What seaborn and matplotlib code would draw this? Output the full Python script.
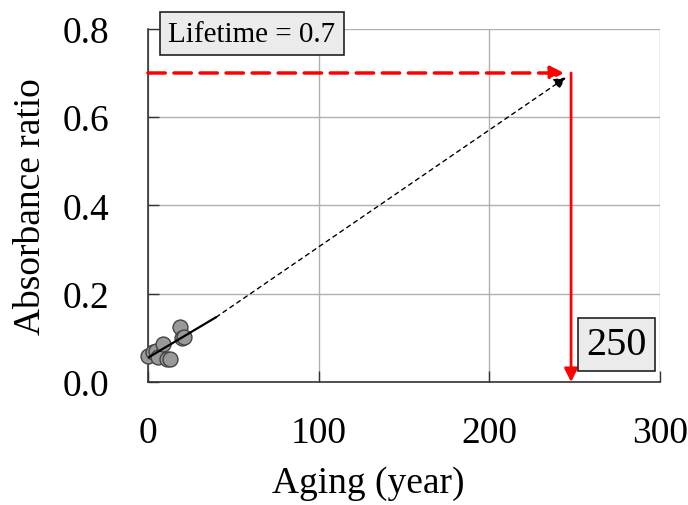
import matplotlib
matplotlib.use("Agg")
import matplotlib.pyplot as plt
import seaborn as sns
import pandas as pd

# Data
aging = [0, 3, 5, 6, 9, 11, 13, 19, 20, 21]
absorbance = [0.060, 0.067, 0.071, 0.056, 0.086, 0.053, 0.053, 0.124, 0.099, 0.102]
fit_x = [0, 40]
fit_y = [0.055, 0.147]
extrap_x = [40, 245]
extrap_y = [0.147, 0.69]
lifetime_value = 0.7
lifetime_years = 248
lifetime_label = "Lifetime = 0.7"
years_label = "250"
x_ticks = [0, 100, 200, 300]
y_ticks = [0.0, 0.2, 0.4, 0.6, 0.8]

sns.set_theme(style="white")
plt.rcParams['font.family'] = ['Liberation Serif', 'DejaVu Serif']
plt.rcParams['text.color'] = 'black'
plt.rcParams['axes.labelcolor'] = 'black'
plt.rcParams['xtick.color'] = 'black'
plt.rcParams['ytick.color'] = 'black'

df = pd.DataFrame({"aging": aging, "absorbance": absorbance})

fig = plt.figure(figsize=(6.88, 5.06), dpi=100)
ax = fig.add_axes([0.215, 0.243, 0.744, 0.698])

ax.set_xlim(0, 300)
ax.set_ylim(0, 0.8)
ax.set_xticks(x_ticks)
ax.set_yticks(y_ticks)
ax.set_xticklabels([str(t) for t in x_ticks])
ax.set_yticklabels([f"{t:.1f}" for t in y_ticks])
ax.grid(True, color="#b0b0b0", linewidth=1.0)
ax.set_axisbelow(True)

for s in ["top", "right"]:
    ax.spines[s].set_visible(False)
for s in ["left", "bottom"]:
    ax.spines[s].set_color("#333333")
    ax.spines[s].set_linewidth(1.2)

ax.tick_params(axis="both", direction="in", length=8, width=1, color="#333333",
               labelsize=27, left=True, bottom=True, labelcolor="black")
ax.tick_params(axis="y", pad=28)
ax.tick_params(axis="x", pad=24)

sns.scatterplot(data=df, x="aging", y="absorbance", ax=ax, s=115, color="#999999",
                edgecolor="#444444", linewidth=1.0, zorder=4, clip_on=False)

# fit line (drawn over markers) and extrapolation
sns.lineplot(x=fit_x, y=fit_y, ax=ax, color="black", linewidth=1.6, zorder=5)
ax.annotate("", xy=(extrap_x[1], extrap_y[1]), xytext=(extrap_x[0], extrap_y[0]),
            arrowprops=dict(arrowstyle="-|>", color="black", linestyle=(0, (3, 3)),
                            linewidth=1.0, mutation_scale=18, shrinkA=0, shrinkB=0), zorder=5)

# red lifetime arrows
ax.annotate("", xy=(lifetime_years - 4, lifetime_value), xytext=(0, lifetime_value),
            arrowprops=dict(arrowstyle="-|>", color="red", linestyle=(0, (5, 2.5)),
                            linewidth=2.5, mutation_scale=20, shrinkA=0, shrinkB=0), zorder=6)
ax.annotate("", xy=(lifetime_years, 0), xytext=(lifetime_years, lifetime_value),
            arrowprops=dict(arrowstyle="-|>", color="red", linewidth=2.0,
                            mutation_scale=20, shrinkA=0, shrinkB=0), zorder=6)

bbox1 = dict(boxstyle="square,pad=0.3", facecolor="#ebebeb", edgecolor="#222222", linewidth=1.2)
bbox2 = dict(boxstyle="square,pad=0.2", facecolor="#ebebeb", edgecolor="#222222", linewidth=1.2)
ax.text(12, 0.789, lifetime_label, fontsize=21, ha="left", va="center", bbox=bbox1, zorder=7,
        clip_on=False)
ax.text(257, 0.086, years_label, fontsize=29, ha="left", va="center", bbox=bbox2, zorder=7)

ax.set_xlabel("Aging (year)", fontsize=27)
ax.xaxis.set_label_coords(0.43, -0.235, transform=ax.transAxes)
ax.xaxis.label.set_verticalalignment("top")
ax.set_ylabel("Absorbance ratio", fontsize=27, labelpad=10)

fig.savefig("out.png", dpi=100)
